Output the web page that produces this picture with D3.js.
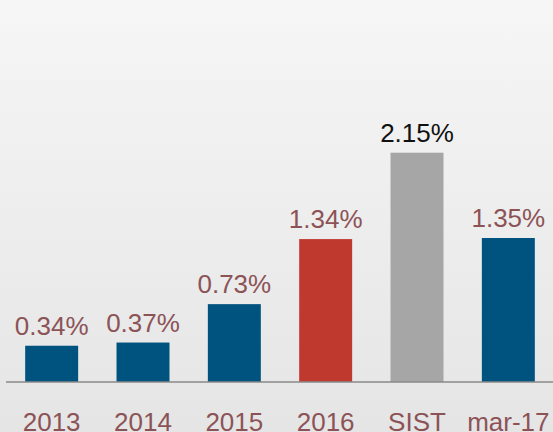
<!DOCTYPE html>
<html>
<head>
<meta charset="utf-8">
<script src="https://cdn.jsdelivr.net/npm/d3@7"></script>
<style>
  body { margin: 0; }
  #chart-container { width: 553px; height: 432px; }
  text { font-family: "Liberation Sans", Arial, sans-serif; }
</style>
</head>
<body>
<div id="chart-container"></div>
<script>
var categories = ["2013", "2014", "2015", "2016", "SIST", "mar-17"];
var values = [0.34, 0.37, 0.73, 1.34, 2.15, 1.35];
var valueLabels = ["0.34%", "0.37%", "0.73%", "1.34%", "2.15%", "1.35%"];
var barColors = ["#00527f", "#00527f", "#00527f", "#c0392f", "#a6a6a6", "#00527f"];
var labelColors = ["#8c5357", "#8c5357", "#8c5357", "#8c5357", "#111111", "#8c5357"];

var width = 553,
    height = 432,
    baseline = 382;

var svg = d3.select("#chart-container")
    .append("svg")
    .attr("width", width)
    .attr("height", height);

// background gradient
var grad = svg.append("defs").append("linearGradient")
    .attr("id", "bg")
    .attr("x1", 0).attr("y1", 0)
    .attr("x2", 0).attr("y2", 1);
grad.append("stop").attr("offset", "0%").attr("stop-color", "#f6f6f6");
grad.append("stop").attr("offset", "100%").attr("stop-color", "#e5e5e5");

svg.append("rect")
    .attr("width", width)
    .attr("height", height)
    .attr("fill", "url(#bg)");

var x = d3.scaleBand()
    .domain(categories)
    .range([6, 554])
    .paddingInner(0.42)
    .paddingOuter(0.21);

var y = d3.scaleLinear()
    .domain([0, 2.15])
    .range([baseline, 152.7]);

var g = svg.append("g");

// bars
g.selectAll("rect.bar")
    .data(values)
    .enter().append("rect")
    .attr("class", "bar")
    .attr("x", function(d, i) { return x(categories[i]); })
    .attr("y", function(d) { return y(d); })
    .attr("width", x.bandwidth())
    .attr("height", function(d) { return baseline - y(d); })
    .attr("fill", function(d, i) { return barColors[i]; });

// value labels
g.selectAll("text.value")
    .data(values)
    .enter().append("text")
    .attr("class", "value")
    .attr("x", function(d, i) { return x(categories[i]) + x.bandwidth() / 2; })
    .attr("y", function(d) { return y(d) - 11; })
    .attr("text-anchor", "middle")
    .attr("font-size", 26)
    .attr("fill", function(d, i) { return labelColors[i]; })
    .text(function(d, i) { return valueLabels[i]; });

// x axis
var xAxis = d3.axisBottom(x).tickSize(0).tickPadding(0);
var axisG = svg.append("g")
    .attr("transform", "translate(0," + baseline + ")")
    .call(xAxis);

axisG.select(".domain")
    .attr("d", "M6,0H553")
    .attr("stroke", "#8a8a8a")
    .attr("stroke-width", 1.5);

axisG.selectAll(".tick text")
    .attr("y", 48.5)
    .attr("dy", 0)
    .attr("font-size", 26)
    .attr("font-family", "Liberation Sans, Arial, sans-serif")
    .attr("fill", "#8c5357");
</script>
</body>
</html>
